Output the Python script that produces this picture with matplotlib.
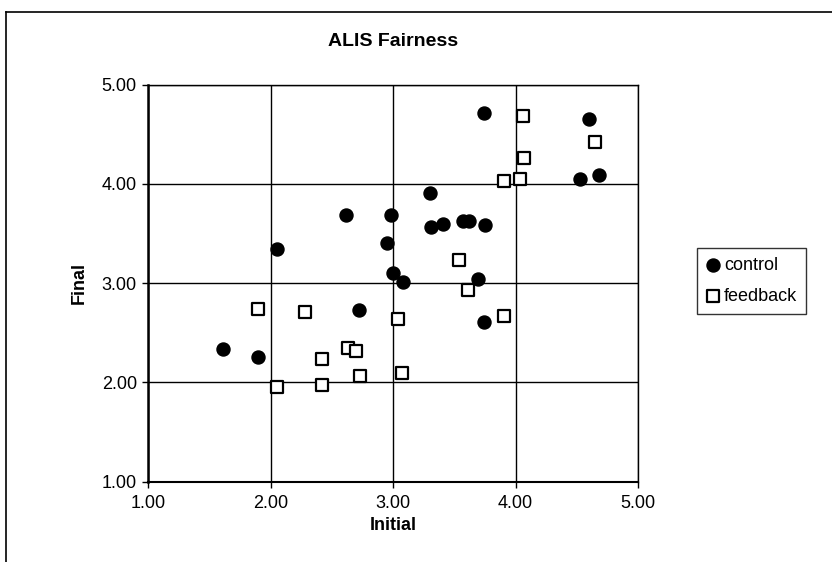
import matplotlib
matplotlib.use("Agg")
import matplotlib.pyplot as plt
from matplotlib.lines import Line2D

plt.rcParams['font.family'] = ['Liberation Sans', 'DejaVu Sans']

control_x = [1.61, 1.90, 2.72, 3.00, 3.08, 2.62, 2.98, 2.95, 2.05, 3.74, 4.60,
             4.53, 4.68, 3.30, 3.31, 3.41, 3.57, 3.62, 3.75, 3.69, 3.74]
control_y = [2.33, 2.25, 2.73, 3.10, 3.01, 3.69, 3.69, 3.40, 3.34, 4.71, 4.65,
             4.05, 4.09, 3.91, 3.56, 3.59, 3.62, 3.62, 3.58, 3.04, 2.61]

feedback_x = [1.90, 2.28, 3.04, 2.63, 2.70, 2.42, 2.73, 3.07, 2.05, 2.42, 4.06,
              4.65, 4.07, 3.91, 4.04, 3.54, 3.61, 3.91]
feedback_y = [2.74, 2.71, 2.64, 2.35, 2.31, 2.23, 2.06, 2.09, 1.95, 1.97, 4.68,
              4.42, 4.26, 4.03, 4.05, 3.23, 2.93, 2.67]

ticks = [1.00, 2.00, 3.00, 4.00, 5.00]
tick_labels = ["1.00", "2.00", "3.00", "4.00", "5.00"]

fig = plt.figure(figsize=(8.32, 5.62), dpi=100)
ax = fig.add_axes([148 / 832, 1 - 481.5 / 562, 490 / 832, 397 / 562])

ax.scatter(control_x, control_y, s=88, marker='o', color='black',
           label='control', zorder=3)
ax.scatter(feedback_x, feedback_y, s=72, marker='s', facecolor='white',
           edgecolor='black', linewidth=1.6, label='feedback', zorder=3)

ax.set_xlim(1, 5)
ax.set_ylim(1, 5)
ax.set_xticks(ticks)
ax.set_xticklabels(tick_labels)
ax.set_yticks(ticks)
ax.set_yticklabels(tick_labels)
ax.grid(True, color='black', linewidth=1.0)
ax.set_axisbelow(True)
for s in ax.spines.values():
    s.set_color('black')
    s.set_linewidth(1.0)
ax.spines['left'].set_linewidth(1.8)
ax.spines['bottom'].set_linewidth(1.5)
ax.tick_params(direction='out', length=4, width=1, labelsize=13, colors='black')
ax.tick_params(axis='x', pad=6)
ax.tick_params(axis='y', pad=4)

ax.set_xlabel('Initial', fontsize=13, fontweight='bold', labelpad=3)
ax.set_ylabel('Final', fontsize=13, fontweight='bold', labelpad=10)
fig.text(393 / 832, 1 - 42 / 562, 'ALIS Fairness', ha='center', va='center',
         fontsize=14, fontweight='bold')

leg = ax.legend(loc='center left', bbox_to_anchor=(697 / 832, 1 - 281 / 562),
                bbox_transform=fig.transFigure, frameon=True, fancybox=False,
                fontsize=13, handletextpad=0.2, borderpad=0.5, labelspacing=0.8,
                handlelength=0.8, borderaxespad=0)
leg.get_frame().set_edgecolor('black')
leg.get_frame().set_linewidth(1.0)

# outer chart frame
fig.add_artist(Line2D([6 / 832, 6 / 832], [0, 1 - 12 / 562], color='black',
                      linewidth=1.2, transform=fig.transFigure))
fig.add_artist(Line2D([6 / 832, 1], [1 - 12 / 562, 1 - 12 / 562], color='black',
                      linewidth=1.2, transform=fig.transFigure))

fig.savefig('out.png', dpi=100, facecolor='white')
